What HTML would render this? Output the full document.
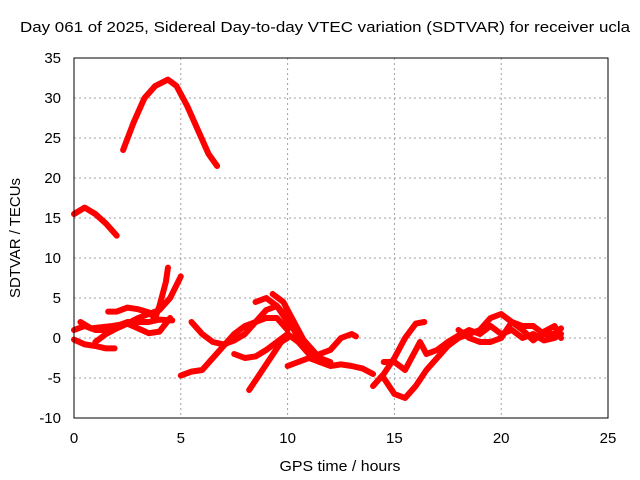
<!DOCTYPE html>
<html><head><meta charset="utf-8"><style>
body{margin:0;background:#fff}
svg{display:block;font-family:"Liberation Sans",sans-serif}
</style></head><body>
<svg id="c" width="640" height="480">
<text x="325" y="32" text-anchor="middle" font-size="15" textLength="610" lengthAdjust="spacingAndGlyphs">Day 061 of 2025, Sidereal Day-to-day VTEC variation (SDTVAR) for receiver ucla</text>
<text x="340" y="471" text-anchor="middle" font-size="15" textLength="121" lengthAdjust="spacingAndGlyphs">GPS time / hours</text>
<text transform="translate(20,238) rotate(-90)" text-anchor="middle" font-size="15" textLength="120" lengthAdjust="spacingAndGlyphs">SDTVAR / TECUs</text>
<g id="grid"></g>
<g id="ticks"></g>
<g id="series"></g>
<rect x="74" y="58" width="534" height="360" fill="none" stroke="#000"/>
</svg>
<script>
const xTicks=[0,5,10,15,20,25];
const yTicks=[-10,-5,0,5,10,15,20,25,30,35];
const tracks=[
[[2.3,23.5],[2.8,27],[3.3,30],[3.8,31.5],[4.4,32.3],[4.8,31.5],[5.3,29],[5.8,26],[6.3,23],[6.7,21.5]],
[[0,15.5],[0.5,16.3],[1,15.5],[1.5,14.3],[2,12.8]],
[[0,-0.2],[0.5,-0.8],[1,-1],[1.5,-1.3],[1.9,-1.3]],
[[0,1],[0.5,1.5],[1,1],[1.5,1],[2,1.5],[2.5,2],[3,2],[3.5,2],[4,2.3],[4.6,2.2]],
[[1,-0.5],[1.5,0.5],[2,1.2],[2.5,1.8],[3,2.5],[3.5,3],[4,3.5],[4.5,5],[5,7.7]],
[[1.6,3.3],[2,3.3],[2.5,3.8],[3,3.6],[3.5,3.2],[3.8,2.5],[4,4],[4.3,7],[4.4,8.8]],
[[0.3,2],[0.8,1.2],[1.8,1.5],[2.5,1.8],[3,1.2],[3.5,0.6],[4,0.8],[4.5,2.5]],
[[5,-4.7],[5.5,-4.2],[6,-4],[6.5,-2.5],[7,-1],[7.5,0.5],[8,1.5],[8.5,2],[9,2.5],[9.5,2.5],[10,1]],
[[5.5,2],[6,0.5],[6.5,-0.5],[7,-0.8],[7.5,-0.3],[8,0.5],[8.5,2],[9,3.5],[9.5,4],[10,2.5],[10.5,0]],
[[7.5,-2],[8,-2.5],[8.5,-2.3],[9,-1.5],[9.5,-0.5],[10,0.5],[10.5,-0.5],[11,-2]],
[[8.2,-6.5],[8.7,-4.5],[9.2,-2.5],[9.7,-0.5],[10,0]],
[[8.5,4.5],[9,5],[9.5,4],[10,2],[10.5,0.5],[11,-1],[11.5,-2.5],[12,-3]],
[[9.3,5.5],[9.8,4.5],[10.3,2],[11,-1.5],[11.5,-3],[12,-3.3]],
[[10,-3.5],[10.5,-3],[11,-2.5],[11.5,-3],[12,-3.5],[12.5,-3.3],[13,-3.5],[13.5,-3.8],[14,-4.5]],
[[11.5,-2],[12,-1.5],[12.5,0],[13,0.5],[13.2,0.2]],
[[14,-6],[14.5,-4.5],[15,-2.5],[15.5,0],[16,1.8],[16.4,2]],
[[14.5,-5],[15,-7],[15.5,-7.5],[16,-6],[16.5,-4],[17,-2.5],[17.5,-1],[18,0],[18.5,0.5],[19,1],[19.5,2.5],[20,3],[20.5,2],[21,1.5],[21.5,1.5],[22,0.5],[22.5,0.5],[22.8,1.2]],
[[14.5,-3],[15,-3],[15.5,-4],[16,-1.5],[16.2,-0.5],[16.5,-2],[17,-1.5],[17.5,-0.5],[18,0.3],[18.5,1],[19,0.5],[19.5,1.5],[20,0.5],[20.5,1],[21,0],[21.5,0.5],[22,-0.3],[22.5,0],[22.8,0.5]],
[[18,1],[18.5,0],[19,-0.5],[19.5,-0.5],[20,0],[20.5,2],[21,1],[21.5,-0.3],[22,0.8],[22.5,1.5],[22.8,0]]
];
const NS='http://www.w3.org/2000/svg';
const X=v=>74+v*534/25, Y=v=>338-v*8;
const grid=document.getElementById('grid'),tk=document.getElementById('ticks'),se=document.getElementById('series');
function mk(t,a,p){const e=document.createElementNS(NS,t);for(const k in a)e.setAttribute(k,a[k]);p.appendChild(e);return e;}
xTicks.forEach(v=>{
 if(v>0&&v<25){const l=mk('line',{x1:X(v),x2:X(v),y1:58,y2:418,stroke:'#a0a0a0','stroke-dasharray':'2,3'},grid);
 
 }
 const t=mk('text',{x:X(v),y:443,'text-anchor':'middle','font-size':15},tk);t.textContent=v;
 
 
});
yTicks.forEach(v=>{
 if(v>-10&&v<35){const l=mk('line',{x1:74,x2:608,y1:Y(v),y2:Y(v),stroke:'#a0a0a0','stroke-dasharray':'2,3'},grid);
 
 }
 const t=mk('text',{x:61,y:Y(v)+5,'text-anchor':'end','font-size':15},tk);t.textContent=v;
 
 
});
tracks.forEach(tr=>{
 const p=mk('polyline',{points:tr.map(d=>X(d[0])+','+Y(d[1])).join(' '),fill:'none',stroke:'#ff0000','stroke-width':6,'stroke-linejoin':'round','stroke-linecap':'round'},se);
 
 
});
</script>
</body></html>
